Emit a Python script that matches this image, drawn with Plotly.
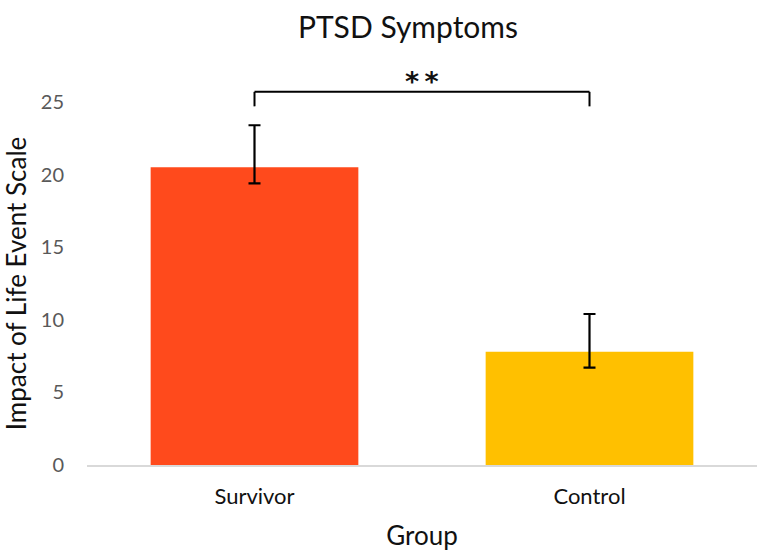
import plotly.graph_objects as go

groups = ["Survivor", "Control"]
means = [20.5, 7.8]
err_plus = [2.9, 2.6]
err_minus = [1.1, 1.1]
bar_colors = ["#FF4A1C", "#FFC000"]
y_ticks = [0, 5, 10, 15, 20, 25]
y_max = 25
sig_label = "**"
bracket_low = 24.7
bracket_high = 25.7

FONT = "Lato"

fig = go.Figure()
fig.add_trace(go.Bar(
    x=groups, y=means,
    marker=dict(color=bar_colors, line=dict(width=0)),
    error_y=dict(type="data", array=err_plus, arrayminus=err_minus,
                 symmetric=False, color="black", thickness=2.2, width=6),
    showlegend=False,
))

fig.update_layout(
    width=763, height=553,
    margin=dict(l=87, r=6, t=102, b=88),
    paper_bgcolor="white", plot_bgcolor="white",
    bargap=0.38,
    title=dict(text="PTSD Symptoms", x=408/763, xref="container", xanchor="center",
               y=1-27/553, yref="container", yanchor="middle",
               font=dict(family=FONT, size=30, color="#111111")),
    font=dict(family=FONT),
)
fig.update_xaxes(
    range=[-0.5, 1.5], showline=True, linecolor="#D9D9D9", linewidth=2,
    showgrid=False, zeroline=False, ticks="", ticklabelstandoff=11,
    tickfont=dict(family=FONT, size=22, color="#111111"),
    title=dict(text="Group", font=dict(family=FONT, size=26, color="#111111"), standoff=18),
)
fig.update_yaxes(
    range=[0, y_max], tickvals=y_ticks, showline=False, showgrid=False, zeroline=False,
    ticks="", ticklabelstandoff=22,
    tickfont=dict(family=FONT, size=20, color="#595959"),
    title=dict(text="Impact of Life Event Scale", font=dict(family=FONT, size=26, color="#111111"), standoff=8),
)

# significance bracket (x from categories, y in paper units derived from data values)
lw = dict(color="black", width=2)
yl, yh = bracket_low / y_max, bracket_high / y_max
fig.add_shape(type="line", xref="x", yref="paper", x0=groups[0], x1=groups[0], y0=yl, y1=yh, line=lw)
fig.add_shape(type="line", xref="x", yref="paper", x0=groups[0], x1=groups[1], y0=yh, y1=yh, line=lw)
fig.add_shape(type="line", xref="x", yref="paper", x0=groups[1], x1=groups[1], y0=yl, y1=yh, line=lw)
fig.add_annotation(x=0.5, xref="x", y=yh, yref="paper", yshift=28,
                   text="<b>" + "\u2009".join(sig_label) + "</b>",
                   showarrow=False, font=dict(family="DejaVu Sans", size=27, color="#111111"))

fig.write_html("out.html", config={"displayModeBar": False},
               post_script="document.body.style.margin='0';")
